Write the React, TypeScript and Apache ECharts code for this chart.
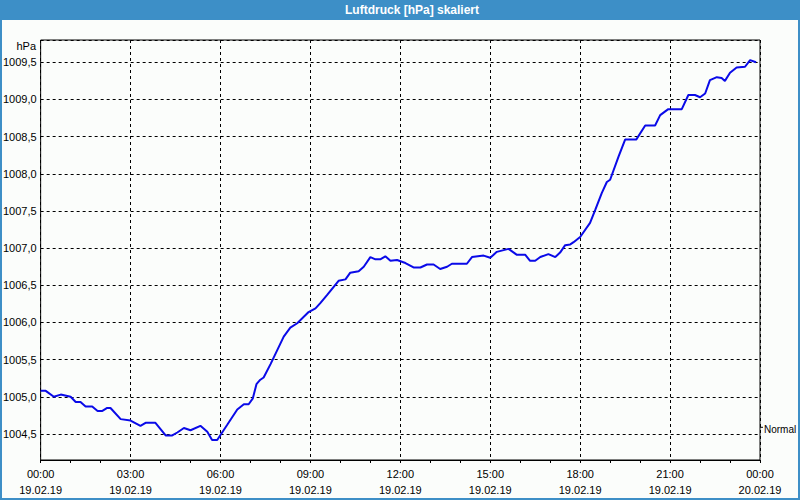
import React, { useEffect, useRef } from "react";
import * as echarts from "echarts";

// Time in hours since 19.02.19 00:00
const hours = [
  0.0, 0.17, 0.44, 0.67, 1.0, 1.17, 1.33, 1.5, 1.72, 1.9, 2.06, 2.22, 2.33, 2.67,
  3.0, 3.33, 3.5, 3.83, 4.17, 4.39, 4.56, 4.78, 5.0, 5.33, 5.56, 5.72, 5.89, 6.22,
  6.56, 6.78, 6.94, 7.08, 7.2, 7.33, 7.44, 7.67, 8.11, 8.33, 8.56, 8.94, 9.17, 9.33,
  9.56, 9.94, 10.17, 10.33, 10.61, 10.78, 11.0, 11.17, 11.33, 11.5, 11.67, 11.89,
  12.17, 12.44, 12.67, 12.89, 13.11, 13.33, 13.56, 13.72, 14.22, 14.39, 14.78, 15.0,
  15.22, 15.61, 15.89, 16.17, 16.33, 16.5, 16.67, 16.94, 17.17, 17.33, 17.5, 17.67,
  17.78, 18.0, 18.33, 18.5, 18.72, 18.89, 19.0, 19.28, 19.5, 19.87, 20.17, 20.5,
  20.67, 20.94, 21.39, 21.61, 21.83, 22.0, 22.17, 22.33, 22.56, 22.72, 22.83, 23.0,
  23.22, 23.5, 23.67, 23.87,
];

// Air pressure in hPa
const pressure = [
  1005.08, 1005.08, 1005.0, 1005.03, 1005.0, 1004.93, 1004.93, 1004.87, 1004.87, 1004.81, 1004.81, 1004.85, 1004.85, 1004.7,
  1004.68, 1004.61, 1004.65, 1004.65, 1004.48, 1004.48, 1004.52, 1004.58, 1004.55, 1004.61, 1004.53, 1004.42, 1004.42, 1004.62,
  1004.83, 1004.9, 1004.9, 1004.98, 1005.17, 1005.23, 1005.26, 1005.44, 1005.81, 1005.93, 1005.99, 1006.14, 1006.19, 1006.26,
  1006.37, 1006.56, 1006.58, 1006.67, 1006.69, 1006.75, 1006.88, 1006.85, 1006.85, 1006.89, 1006.83, 1006.84,
  1006.8, 1006.74, 1006.74, 1006.78, 1006.78, 1006.72, 1006.75, 1006.79, 1006.79, 1006.88, 1006.9, 1006.87,
  1006.95, 1006.99, 1006.91, 1006.91, 1006.83, 1006.83, 1006.88, 1006.92, 1006.88, 1006.94, 1007.04, 1007.05,
  1007.08, 1007.15, 1007.34, 1007.51, 1007.74, 1007.89, 1007.92, 1008.23, 1008.46, 1008.46, 1008.65, 1008.65,
  1008.79, 1008.87, 1008.87, 1009.06, 1009.06, 1009.03, 1009.08, 1009.26, 1009.3, 1009.29, 1009.25, 1009.36,
  1009.43, 1009.44, 1009.53, 1009.5,
];

const timeLabels = ["00:00", "03:00", "06:00", "09:00", "12:00", "15:00", "18:00", "21:00", "00:00"];
const dateLabels = ["19.02.19", "19.02.19", "19.02.19", "19.02.19", "19.02.19", "19.02.19", "19.02.19", "19.02.19", "20.02.19"];

const titleText = "Luftdruck [hPa] skaliert";
const unitText = "hPa";
const normalText = "Normal";
const normalValue = 1004.59;

const FONT = "'Liberation Sans', Arial, sans-serif";
const BLUE = "#3d8fc7";

export default function App() {
  const ref = useRef<HTMLDivElement>(null);

  useEffect(() => {
    if (!ref.current) return;
    const chart = echarts.init(ref.current, null, { renderer: "svg" });
    const data = hours.map((h, i) => [h, pressure[i]]);
    const yMin = 1004.15;
    const yMax = 1009.8;
    const gridTop = 40;
    const gridBottom = 460;
    const normalY = gridBottom - ((normalValue - yMin) / (yMax - yMin)) * (gridBottom - gridTop);

    chart.setOption({
      animation: false,
      backgroundColor: "#fbfdfb",
      grid: {
        left: 40,
        right: 40,
        top: gridTop,
        bottom: 500 - gridBottom,
        show: true,
        borderColor: "#000",
        borderWidth: 1,
        backgroundColor: "transparent",
      },
      xAxis: {
        type: "value",
        min: 0,
        max: 24,
        interval: 3,
        axisLine: { show: true, lineStyle: { color: "#000", width: 1 } },
        axisTick: { show: true, length: 3, lineStyle: { color: "#000" } },
        minorTick: { show: true, splitNumber: 3, length: 3, lineStyle: { color: "#000" } },
        splitLine: { show: true, lineStyle: { color: "#000", type: [3, 3], width: 1 } },
        axisLabel: {
          show: true,
          margin: 6,
          color: "#000",
          fontFamily: FONT,
          fontSize: 11,
          lineHeight: 16,
          showMinLabel: true,
          showMaxLabel: true,
          formatter: (v: number) => {
            const i = Math.round(v / 3);
            return `${timeLabels[i]}\n${dateLabels[i]}`;
          },
        },
      },
      yAxis: {
        type: "value",
        min: yMin,
        max: yMax,
        splitNumber: 11,
        minInterval: 0.5,
        maxInterval: 0.5,
        axisLine: { show: false },
        axisTick: { show: false },
        splitLine: { show: true, lineStyle: { color: "#000", type: [3, 3], width: 1 } },
        axisLabel: {
          margin: 4,
          color: "#000",
          fontFamily: FONT,
          fontSize: 11,
          showMinLabel: false,
          showMaxLabel: false,
          formatter: (v: number) => v.toFixed(1).replace(".", ","),
        },
      },
      series: [
        {
          type: "line",
          data,
          showSymbol: false,
          symbol: "none",
          lineStyle: { color: "#0a0ae8", width: 2 },
          z: 5,
        },
      ],
      graphic: [
        { type: "rect", shape: { x: 0, y: 0, width: 800, height: 20 }, style: { fill: BLUE }, z: 10 },
        {
          type: "text",
          x: 412,
          y: 10,
          style: {
            text: titleText,
            fill: "#fff",
            font: `bold 12px ${FONT}`,
            textAlign: "center",
            textVerticalAlign: "middle",
          },
          z: 11,
        },
        {
          type: "rect",
          shape: { x: 1, y: 1, width: 798, height: 498 },
          style: { fill: "none", stroke: BLUE, lineWidth: 2 },
          z: 10,
        },
        {
          type: "text",
          x: 36,
          y: 46,
          style: {
            text: unitText,
            fill: "#000",
            font: `11px ${FONT}`,
            textAlign: "right",
            textVerticalAlign: "middle",
          },
        },
        {
          type: "line",
          shape: { x1: 760, y1: normalY, x2: 763, y2: normalY },
          style: { stroke: "#000", lineWidth: 1 },
        },
        {
          type: "text",
          x: 764,
          y: normalY + 2,
          style: {
            text: normalText,
            fill: "#000",
            font: `10px ${FONT}`,
            textAlign: "left",
            textVerticalAlign: "middle",
          },
          z: 12,
        },
      ],
    });
    return () => chart.dispose();
  }, []);

  return (
    <div
      ref={ref}
      style={{ position: "absolute", left: 0, top: 0, width: 800, height: 500 }}
    />
  );
}
